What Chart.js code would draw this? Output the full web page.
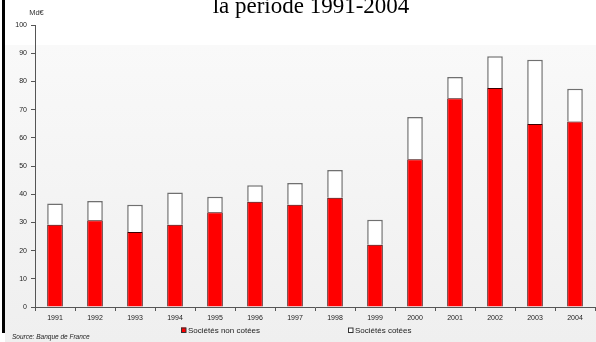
<!DOCTYPE html>
<html>
<head>
<meta charset="utf-8">
<script src="https://cdn.jsdelivr.net/npm/chart.js@4.4.1/dist/chart.umd.min.js"></script>
<style>
  html, body { margin: 0; padding: 0; background: #ffffff; }
  #wrap { width: 596px; height: 342px; position: relative; }
</style>
</head>
<body>
<div id="wrap"><canvas id="c" width="596" height="342"></canvas></div>
<script>
// Years on the category axis
const years = ['1991', '1992', '1993', '1994', '1995', '1996', '1997',
               '1998', '1999', '2000', '2001', '2002', '2003', '2004'];

// Md€ — unlisted companies (bottom segment)
const nonCotees = [29.2, 30.8, 26.6, 29.2, 33.6, 37.3, 36.3,
                   38.7, 22.1, 52.4, 74.0, 77.7, 64.9, 65.8];

// Md€ — listed companies (stacked on top)
const cotees = [7.5, 6.8, 9.7, 11.4, 5.5, 5.9, 7.7,
                9.9, 8.8, 15.0, 7.6, 11.2, 22.8, 11.6];

// Value axis ticks
const yTicks = [0, 10, 20, 30, 40, 50, 60, 70, 80, 90, 100];

const titleText = 'la période 1991-2004';
const unitText = 'Md€';
const sourceText = 'Source: Banque de France';
const legendLabels = ['Sociétés non cotées', 'Sociétés cotées'];

const tickFont = { family: 'Liberation Sans, Arial, sans-serif', size: 7 };

// Page background: white band on top, soft grey panel below
const backdrop = {
  id: 'backdrop',
  beforeDraw(chart) {
    const ctx = chart.ctx;
    ctx.save();
    ctx.fillStyle = '#ffffff';
    ctx.fillRect(0, 0, chart.width, chart.height);
    const g = ctx.createLinearGradient(0, 45, 0, chart.height);
    g.addColorStop(0, '#f9f9f9');
    g.addColorStop(1, '#efefef');
    ctx.fillStyle = g;
    ctx.fillRect(5, 45, chart.width - 5, chart.height - 45);
    // black frame edge on the left
    ctx.fillStyle = '#000000';
    ctx.fillRect(2, 0, 3, 333);
    ctx.restore();
  }
};

// Title, unit, legend and source note
const annotations = {
  id: 'annotations',
  afterDraw(chart) {
    const ctx = chart.ctx;
    ctx.save();
    ctx.fillStyle = '#000000';
    ctx.font = '23px "Liberation Serif", "Times New Roman", serif';
    ctx.textAlign = 'center';
    ctx.textBaseline = 'alphabetic';
    ctx.fillText(titleText, 311, 13);

    ctx.fillStyle = '#333333';
    ctx.font = '7.5px "Liberation Sans", Arial, sans-serif';
    ctx.textBaseline = 'middle';
    ctx.fillText(unitText, 36.5, 13);

    // legend
    const ds = chart.data.datasets;
    const items = [{ x: 181, i: 0 }, { x: 348, i: 1 }];
    ctx.font = '8px "Liberation Sans", Arial, sans-serif';
    ctx.textAlign = 'left';
    items.forEach(it => {
      const d = ds[it.i];
      ctx.fillStyle = d.backgroundColor;
      ctx.fillRect(it.x, 327.5, 5, 5);
      ctx.strokeStyle = '#333333';
      ctx.lineWidth = 1;
      ctx.strokeRect(it.x + 0.5, 328, 4.5, 4.5);
      ctx.fillStyle = '#222222';
      ctx.fillText(legendLabels[it.i], it.x + 7, 330.5);
    });

    ctx.font = 'italic 6.5px "Liberation Sans", Arial, sans-serif';
    ctx.fillStyle = '#222222';
    ctx.fillText(sourceText, 12, 337.5);
    ctx.restore();
  }
};

new Chart(document.getElementById('c'), {
  type: 'bar',
  data: {
    labels: years,
    datasets: [
      {
        label: legendLabels[0],
        data: nonCotees,
        backgroundColor: '#ff0000',
        borderColor: '#3a0000',
        borderWidth: 1,
        categoryPercentage: 1,
        barPercentage: 0.39
      },
      {
        label: legendLabels[1],
        data: cotees,
        backgroundColor: '#ffffff',
        borderColor: '#707070',
        borderWidth: 1.5,
        categoryPercentage: 1,
        barPercentage: 0.39
      }
    ]
  },
  options: {
    responsive: false,
    animation: false,
    devicePixelRatio: 1,
    layout: { padding: { top: 25, right: 1, bottom: 0, left: 0 } },
    plugins: {
      legend: { display: false },
      title: { display: false },
      tooltip: { enabled: false }
    },
    scales: {
      x: {
        stacked: true,
        afterFit(scale) { scale.height = 35; },
        grid: {
          offset: true,
          drawOnChartArea: false,
          drawTicks: true,
          tickLength: 4,
          tickColor: '#555555'
        },
        border: { display: true, color: '#555555', width: 1 },
        ticks: { font: tickFont, color: '#222222', padding: 3, maxRotation: 0, autoSkip: false }
      },
      y: {
        stacked: true,
        min: 0,
        max: 100,
        afterFit(scale) { scale.width = 35; },
        afterBuildTicks(scale) { scale.ticks = yTicks.map(v => ({ value: v })); },
        grid: {
          drawOnChartArea: false,
          drawTicks: true,
          tickLength: 4,
          tickColor: '#555555'
        },
        border: { display: true, color: '#555555', width: 1 },
        ticks: { font: tickFont, color: '#222222', padding: 4 }
      }
    }
  },
  plugins: [backdrop, annotations]
});
</script>
</body>
</html>
